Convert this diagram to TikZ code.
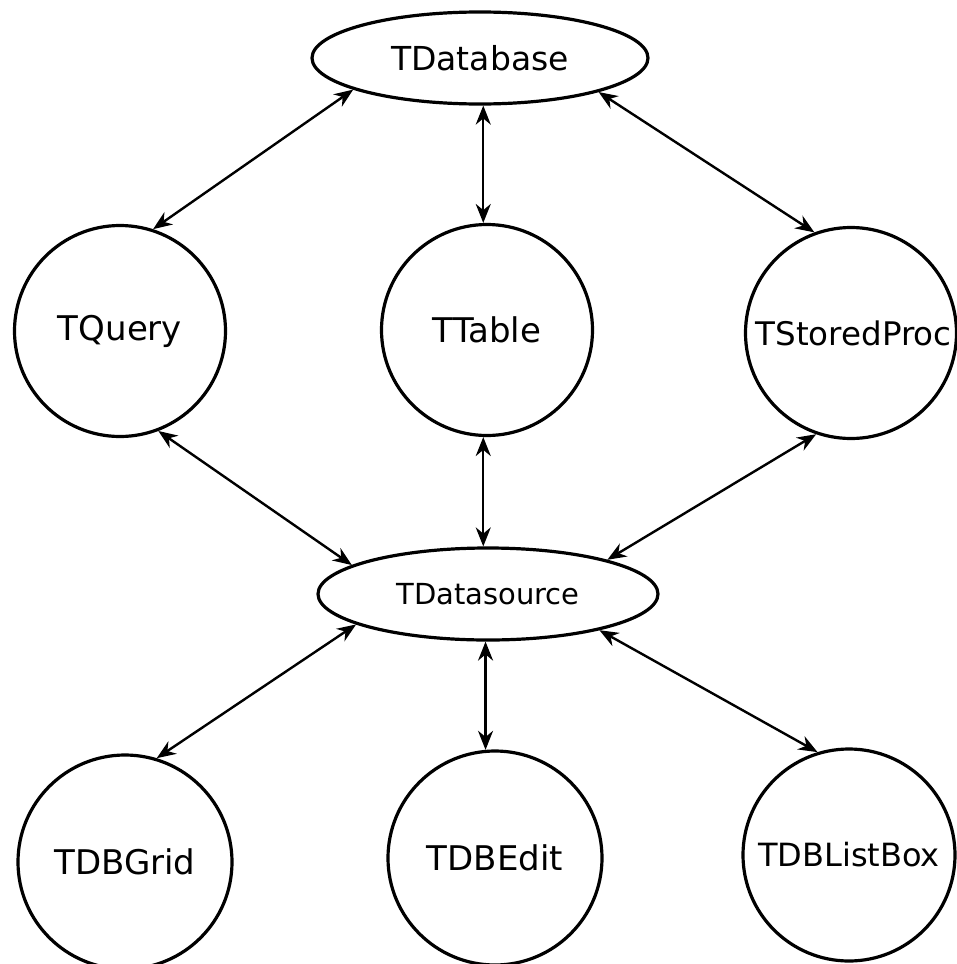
\documentclass[tikz,border=0pt]{standalone}
\usepackage{fontspec}
\setmainfont{DejaVu Sans}
\usetikzlibrary{shapes.geometric,arrows.meta}
\begin{document}
\begin{tikzpicture}[x=1pt,y=-1pt,
  oval/.style={draw,ellipse,line width=3.2pt,inner sep=0pt,font=\fontsize{33}{36}\selectfont},
  comp/.style={draw,circle,line width=3.2pt,inner sep=0pt,minimum size=211pt,font=\fontsize{34}{38}\selectfont},
  link/.style={line width=2.4pt,{Stealth[length=19pt,width=15pt]}-{Stealth[length=19pt,width=15pt]}}]
\useasboundingbox (0,0) rectangle (956,964);
\node[oval,minimum width=336pt,minimum height=92pt] (db) at (480,58) {TDatabase};
\node[oval,minimum width=340pt,minimum height=92pt,font=\fontsize{29}{32}\selectfont] (ds) at (488,594) {TDatasource};
\node[comp] (q) at (120,331) {TQuery};
\node[comp] (t) at (487,330) {TTable};
\node[comp,font=\fontsize{32.5}{36}\selectfont] (sp) at (851,333) {\hspace*{5pt}TStoredProc};
\node[comp,minimum size=214pt] (g) at (125,862) {TDBGrid};
\node[comp,minimum size=214pt] (e) at (495,858) {TDBEdit};
\node[comp,minimum size=212pt,font=\fontsize{32}{35}\selectfont] (lb) at (849,855) {TDBListBox};
\draw[link] (db.south -| t.92) -- (t.92);
\draw[link] (db.194) -- (q.72);
\draw[link] (db.344) -- (sp.110);
\draw[link] (q.291) -- (ds.168);
\draw[link] (t.268) -- (ds.north -| t.268);
\draw[link] (sp.251) -- (ds.16);
\draw[link] (ds.193) -- (g.73);
\draw[link] (ds.south -| e.95) -- (e.95);
\draw[link] (ds.342) -- (lb.107);
\end{tikzpicture}
\end{document}
